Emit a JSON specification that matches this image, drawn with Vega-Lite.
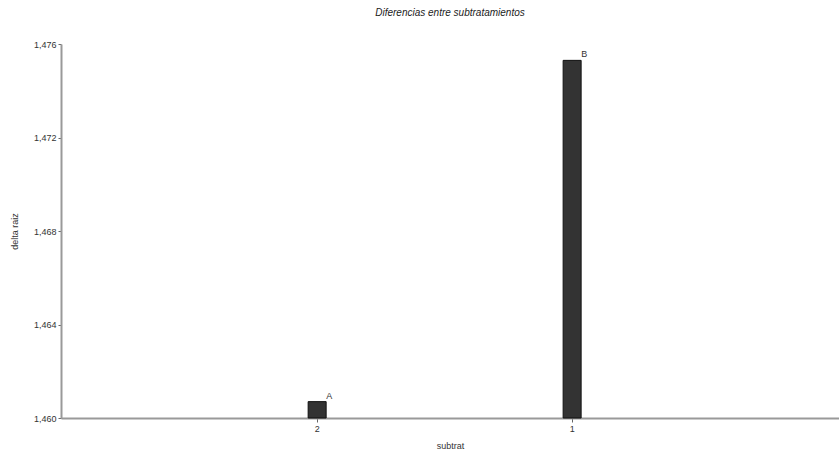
{
  "$schema": "https://vega.github.io/schema/vega-lite/v6.json",
  "width": 778,
  "height": 374,
  "autosize": "none",
  "padding": {"left": 61, "top": 44, "right": 0, "bottom": 46},
  "background": "white",
  "title": {"text": "Diferencias entre subtratamientos", "fontStyle": "italic", "fontWeight": "normal", "fontSize": 10, "font": "Liberation Sans", "color": "#222", "offset": 22, "anchor": "middle"},
  "config": {"view": {"stroke": null}, "font": "Liberation Sans"},
  "data": {"values": [
    {"subtrat": "2", "delta": 1.4607, "grupo": "A"},
    {"subtrat": "1", "delta": 1.4753, "grupo": "B"}
  ]},
  "encoding": {
    "x": {"field": "subtrat", "type": "ordinal", "sort": ["2", "1"],
      "scale": {"paddingInner": 0, "paddingOuter": 0.5255, "align": 0.48},
      "axis": {"title": "subtrat", "labelAngle": 0, "labelFontSize": 9, "titleFontSize": 9, "titleFontWeight": "normal", "domainColor": "#999", "domainWidth": 2, "tickColor": "#666", "tickSize": 4, "labelColor": "#333", "titleColor": "#333", "labelPadding": 2, "titlePadding": 8}},
    "y": {"field": "delta", "type": "quantitative",
      "scale": {"domain": [1.46, 1.476], "zero": false, "nice": false},
      "axis": {"title": "delta raiz", "values": [1.46, 1.464, 1.468, 1.472, 1.476], "labelExpr": "replace(format(datum.value, '.3f'), '.', ',')", "grid": false, "labelFontSize": 9, "titleFontSize": 9, "titleFontWeight": "normal", "domainColor": "#999", "domainWidth": 2, "tickColor": "#666", "tickSize": 3, "labelColor": "#333", "titleColor": "#333", "titlePadding": 14}}
  },
  "layer": [
    {"mark": {"type": "bar", "size": 18, "color": "#333", "stroke": "#111", "strokeWidth": 1}, "encoding": {"y2": {"datum": 1.46}}},
    {"mark": {"type": "text", "dx": 12, "dy": -6, "fontSize": 9, "color": "#333"}, "encoding": {"text": {"field": "grupo"}}}
  ]
}
